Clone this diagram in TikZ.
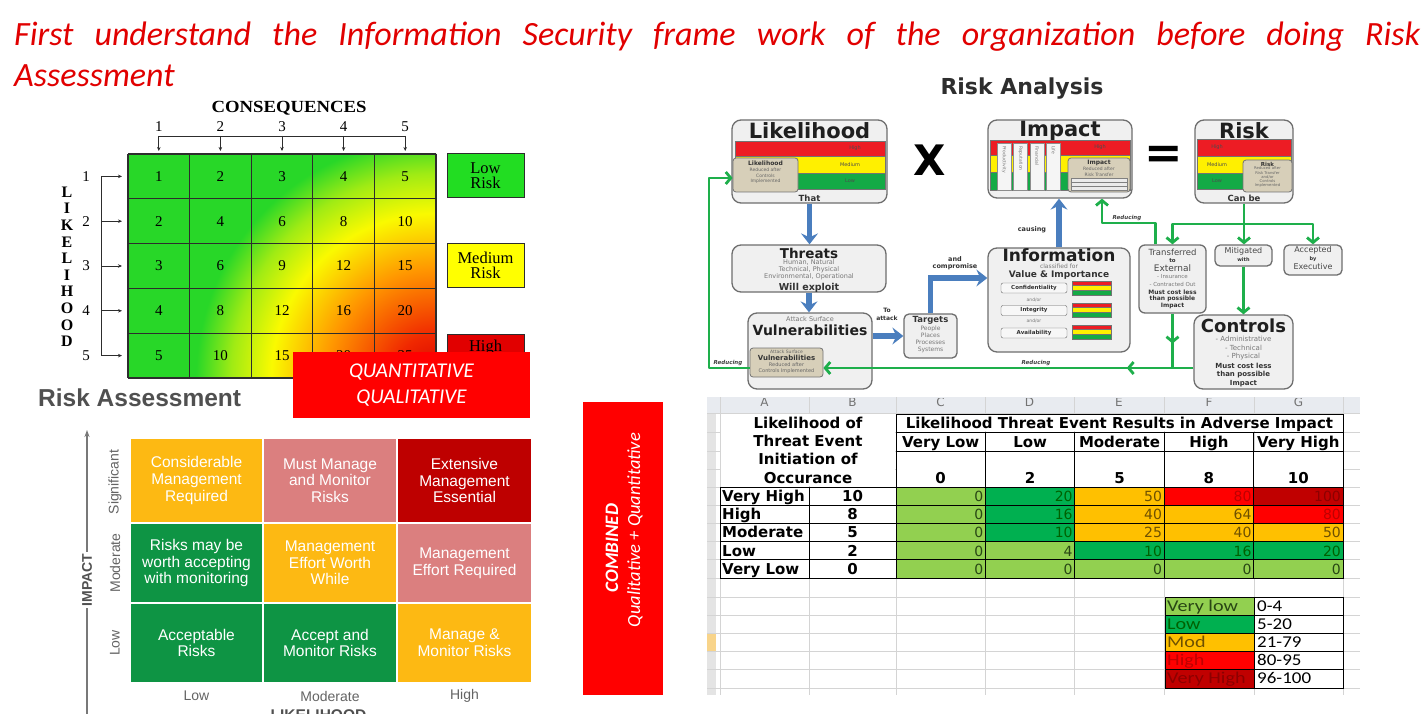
\documentclass[tikz,border=0pt]{standalone}
\usepackage{fontspec}
\setmainfont{Liberation Serif}
\setsansfont{Liberation Sans}
\newfontfamily\calfont{Carlito}
\newfontfamily\verfont{DejaVu Sans}
\newfontfamily\arialfont{Liberation Sans}
\newfontfamily\timesfont{Liberation Serif}
\usetikzlibrary{arrows.meta,calc,decorations.markings}
\newcommand\setfs[2]{\fontsize{#1pt}{#2pt}\selectfont}

% heading and flags
\definecolor{titlered}{RGB}{225,0,0}
\definecolor{flagred}{RGB}{255,0,0}
% heat map
\definecolor{hgreen}{RGB}{40,215,40}
\definecolor{hygreen}{RGB}{160,235,20}
\definecolor{hyellow}{RGB}{250,250,0}
\definecolor{horange}{RGB}{255,150,0}
\definecolor{hred}{RGB}{240,40,0}
\definecolor{hdark}{RGB}{215,0,0}
\definecolor{gridink}{RGB}{45,45,45}
\definecolor{lowbox}{RGB}{34,221,34}
\definecolor{medbox}{RGB}{255,255,0}
\definecolor{highbox}{RGB}{225,0,0}
% qualitative matrix
\definecolor{qamber}{RGB}{253,185,19}
\definecolor{qpink}{RGB}{219,127,127}
\definecolor{qcrim}{RGB}{190,0,0}
\definecolor{qgreen}{RGB}{14,148,68}
\definecolor{axisgray}{RGB}{120,120,120}
\definecolor{ragray}{RGB}{80,80,80}
\definecolor{lblgray}{RGB}{100,100,100}
% risk analysis flow
\definecolor{rafill}{RGB}{240,240,240}
\definecolor{raedge}{RGB}{110,110,110}
\definecolor{bandred}{RGB}{237,28,36}
\definecolor{bandyel}{RGB}{255,240,0}
\definecolor{bandgrn}{RGB}{20,170,70}
\definecolor{beige}{RGB}{215,207,185}
\definecolor{flowblue}{RGB}{74,126,190}
\definecolor{flowgreen}{RGB}{30,175,75}
\definecolor{smallgray}{RGB}{120,120,120}
% spreadsheet
\definecolor{xlgreen}{RGB}{146,208,80}
\definecolor{xgreen}{RGB}{0,176,80}
\definecolor{xamber}{RGB}{255,192,0}
\definecolor{xred}{RGB}{255,0,0}
\definecolor{xdark}{RGB}{192,0,0}
\definecolor{tlg}{RGB}{40,70,20}
\definecolor{tg}{RGB}{0,97,0}
\definecolor{ta}{RGB}{110,80,0}
\definecolor{tr}{RGB}{190,0,0}
\definecolor{td}{RGB}{140,0,0}
\definecolor{xgrid}{RGB}{212,212,212}
\definecolor{xhead}{RGB}{232,235,240}
\definecolor{xrowhd}{RGB}{228,228,228}
\definecolor{xsel}{RGB}{248,212,138}

% radial heat map: the 25bp circle of the shading spans the path's bounding box
\pgfdeclareradialshading{heatmap}{\pgfpoint{0bp}{0bp}}{%
  color(0bp)=(hdark); color(2.7bp)=(hred); color(6.8bp)=(horange);
  color(10.3bp)=(hyellow); color(12.8bp)=(hygreen); color(15bp)=(hgreen);
  color(50bp)=(hgreen)}

\tikzset{
  rabox/.style={draw=raedge, line width=1.3, fill=rafill, rounded corners=9pt, inner sep=0pt},
  beigebox/.style={draw=black!55, line width=0.8, fill=beige, rounded corners=3pt, inner sep=0pt},
  band/.style={draw=black!55, line width=0.5},
  ttl/.style={font=\verfont\bfseries\setfs{#1}{#1}, text=black!88, inner sep=0pt},
  sm/.style={font=\verfont\setfs{#1}{#1}, text=smallgray, inner sep=0pt},
  smd/.style={font=\verfont\setfs{#1}{#1}, text=black!72, inner sep=0pt},
  smb/.style={font=\verfont\bfseries\setfs{#1}{#1}, text=black!80, inner sep=0pt},
  flowlbl/.style={font=\verfont\bfseries\itshape\setfs{5.5}{5.5}, text=black!75, inner sep=0pt},
  bandlbl/.style={font=\verfont\setfs{5}{5}, text=black!70, inner sep=0pt},
  bluearr/.style={draw=flowblue, line width=5.5, -{Stealth[length=11pt,width=17pt,inset=4pt]}},
  greenline/.style={draw=flowgreen, line width=2.8, line join=round},
  greenarr/.style={greenline, -{Straight Barb[length=5pt,width=12pt]}},
  midarrow/.style={postaction={decorate}, decoration={markings,
      mark=at position #1 with {\arrow[flowgreen, line width=2.8]{Straight Barb[length=5pt,width=12pt]}}}},
  qcell/.style={text=white, align=center, inner sep=0pt, font=\arialfont\setfs{15.5}{16.7}},
  serifnum/.style={font=\timesfont\setfs{15}{15}, inner sep=0pt},
  heatlink/.style={gridink, line width=0.9},
  xb/.style={font=\verfont\bfseries\setfs{15}{18.3}, inner sep=0pt},
  xborder/.style={draw=black, line width=0.9}
}

\begin{document}
\begin{tikzpicture}[x=1pt,y=-1pt]
\useasboundingbox (0,0) rectangle (1426,714);
\fill[white] (0,0) rectangle (1426,714);

% ---------------- heading ----------------
\node[anchor=base west, inner sep=0pt, text=titlered, font=\calfont\itshape\setfs{34}{40}] (head1) at (14,46)
  {\makebox[1406pt][s]{First understand the Information Security frame work of the organization before doing Risk}};
\node[anchor=base west, inner sep=0pt, text=titlered, font=\calfont\itshape\setfs{34}{40}] (head2) at (14,87) {Assessment};

% ---------------- quantitative heat map ----------------
\begin{scope}
  \clip (128,154) rectangle (436,378);
  \shade[shading=heatmap] (436,378) circle (400pt);
\end{scope}
\foreach \gx in {128,189.6,251.2,312.8,374.4,436}
  \draw[gridink, line width=1.3] (\gx,154) -- (\gx,378);
\foreach \gy in {154,198.8,243.6,288.4,333.2,378}
  \draw[gridink, line width=1.3] (128,\gy) -- (436,\gy);
\foreach \r in {1,...,5}{
  \foreach \c in {1,...,5}{
    \pgfmathtruncatemacro\cellv{\r*\c}
    \node[serifnum] (m\r\c) at ({128+61.6*(\c-0.5)},{154+44.8*(\r-0.5)}) {\cellv};
  }
}
\node[font=\timesfont\bfseries\setfs{17}{17}, inner sep=0pt] (conseq) at (289,108) {\scalebox{1.1}[1]{CONSEQUENCES}};
\draw[heatlink] (158.8,136) -- (405.2,136);
\foreach \c in {1,...,5}{
  \node[serifnum] (cn\c) at ({128+61.6*(\c-0.5)},127) {\c};
  \draw[heatlink, -{Stealth[length=4pt,width=3.5pt]}] ({128+61.6*(\c-0.5)},136) -- ({128+61.6*(\c-0.5)},151);
}
\draw[heatlink] (101,176.4) -- (101,355.6);
\foreach \r in {1,...,5}{
  \node[serifnum] (rn\r) at (86,{154+44.8*(\r-0.5)}) {\r};
  \draw[heatlink, -{Stealth[length=4pt,width=3.5pt]}] (101,{154+44.8*(\r-0.5)}) -- (122,{154+44.8*(\r-0.5)});
}
\foreach \l [count=\i] in {L,I,K,E,L,I,H,O,O,D}
  \node[font=\timesfont\bfseries\setfs{16}{16}, inner sep=0pt] (lk\i) at (67,{192+16.6*(\i-1)}) {\l};
\node[draw=gridink, line width=1, fill=lowbox, minimum width=77pt, minimum height=44pt, inner sep=0pt,
      align=center, font=\timesfont\setfs{16.5}{15}] (lowr) at (485.5,176) {Low\\Risk};
\node[draw=gridink, line width=1, fill=medbox, minimum width=77pt, minimum height=44pt, inner sep=0pt,
      align=center, font=\timesfont\setfs{16.5}{15}] (medr) at (485.5,265.5) {Medium\\Risk};
\node[draw=gridink, line width=1, fill=highbox, minimum width=77pt, minimum height=44pt, inner sep=0pt] (highr) at (485.5,356) {};
\node[font=\timesfont\setfs{16.5}{15}, inner sep=0pt] (hight) at (485.5,348) {High};

\node[fill=flagred, minimum width=237pt, minimum height=66pt, inner sep=0pt, text=white, align=center,
      font=\calfont\itshape\setfs{21}{26}] (quant) at (411.5,385) {QUANTITATIVE\\QUALITATIVE};

% ---------------- qualitative matrix ----------------
\node[anchor=west, inner sep=0pt, font=\arialfont\bfseries\setfs{24.5}{28}, text=ragray] (rahead) at (38,398) {Risk Assessment};
\node[qcell, fill=qamber, minimum width=131pt, minimum height=83pt] (q11) at (196.5,480.5) {Considerable\\Management\\Required};
\node[qcell, fill=qpink,  minimum width=132pt, minimum height=83pt] (q12) at (330,480.5) {Must Manage\\and Monitor\\Risks};
\node[qcell, fill=qcrim,  minimum width=133pt, minimum height=83pt] (q13) at (464.5,480.5) {Extensive\\Management\\Essential};
\node[qcell, fill=qgreen, minimum width=131pt, minimum height=78pt] (q21) at (196.5,563) {Risks may be\\worth accepting\\with monitoring};
\node[qcell, fill=qamber, minimum width=132pt, minimum height=78pt] (q22) at (330,563) {Management\\Effort Worth\\While};
\node[qcell, fill=qpink,  minimum width=133pt, minimum height=78pt] (q23) at (464.5,563) {Management\\Effort Required};
\node[qcell, fill=qgreen, minimum width=131pt, minimum height=78pt] (q31) at (196.5,643) {Acceptable\\Risks};
\node[qcell, fill=qgreen, minimum width=132pt, minimum height=78pt] (q32) at (330,643) {Accept and\\Monitor Risks};
\node[qcell, fill=qamber, minimum width=133pt, minimum height=78pt] (q33) at (464.5,643) {Manage \&\\Monitor Risks};
\foreach \t/\cx [count=\i] in {Low/196.5,Moderate/330,High/464.5}
  \node[font=\arialfont\setfs{14}{14}, text=lblgray, inner sep=0pt] (lx\i) at (\cx,696) {\t};
\foreach \t/\cy [count=\i] in {Significant/482,Moderate/563,Low/643}
  \node[rotate=90, font=\arialfont\setfs{14}{14}, text=lblgray, inner sep=0pt] (ly\i) at (115,\cy) {\t};
\draw[axisgray, line width=1.2, -{Stealth[length=7pt,width=5pt]}] (87,716) -- (87,430);
\node[rotate=90, fill=white, inner sep=1.5pt, font=\arialfont\bfseries\setfs{14}{14}, text=ragray] (impax) at (87,580) {IMPACT};
\node[anchor=north, inner sep=0pt, font=\arialfont\bfseries\setfs{15.5}{15.5}, text=ragray] (likax) at (318.5,709) {LIKELIHOOD};

% ---------------- combined flag ----------------
\node[fill=flagred, minimum width=80pt, minimum height=293pt, inner sep=0pt] (combo) at (623,548.5) {};
\node[rotate=90, text=white, inner sep=0pt, font=\calfont\bfseries\itshape\setfs{19}{19}] (comboA) at (612,548) {COMBINED};
\node[rotate=90, text=white, inner sep=0pt, font=\calfont\itshape\setfs{18.5}{18.5}] (comboB) at (635,530) {Qualitative + Quantitative};

% ---------------- risk analysis flow ----------------
\node[font=\verfont\bfseries\setfs{22}{22}, text=black!82, inner sep=0pt] (rtitle) at (1022,89) {Risk Analysis};

% likelihood
\node[rabox, minimum width=155pt, minimum height=83pt] (lik) at (809.5,161.5) {};
\node[ttl=21] (likT) at (809.5,131) {Likelihood};
\filldraw[band, fill=bandred] (735,141) rectangle (885,156);
\filldraw[band, fill=bandyel] (735,156) rectangle (885,173);
\filldraw[band, fill=bandgrn] (735,173) rectangle (885,189);
\node[bandlbl] (likH) at (855,148.5) {High};
\node[bandlbl] (likM) at (850,164.5) {Medium};
\node[bandlbl] (likL) at (850,181) {Low};
\node[beigebox, minimum width=65pt, minimum height=34pt] (likb) at (765.5,175) {};
\node[smb=6] (likb0) at (765.5,163.5) {Likelihood};
\foreach \t/\yy [count=\i] in {Reduced after/169.5,Controls/175.5,Implemented/181.5}
  \node[sm=4.5, text=black!60] (likb\i) at (765.5,\yy) {\t};
\node[smb=8.5] (likThat) at (809.5,198) {That};

\node[font=\verfont\bfseries\setfs{42}{42}, inner sep=0pt] (times) at (930,160) {X};

% impact
\node[rabox, minimum width=144pt, minimum height=78pt] (imp) at (1060,159) {};
\node[ttl=21] (impT) at (1060,131) {Impact};
\filldraw[band, fill=bandred] (990,140) rectangle (1130,155);
\filldraw[band, fill=bandyel] (990,155) rectangle (1130,172);
\filldraw[band, fill=bandgrn] (990,172) rectangle (1130,190);
\node[bandlbl] (impH) at (1100,147.5) {High};
\foreach \ax/\t [count=\i] in {997/Productivity,1013.5/Reputation,1030/Financial,1046.5/Life}{
  \filldraw[fill=black!4, draw=black!45, line width=0.5] (\ax,143) rectangle (\ax+14,190);
  \node[rotate=-90, anchor=west, sm=4.5] (imps\i) at (\ax+7,146) {\t};
}
\node[beigebox, minimum width=62pt, minimum height=34pt] (impb) at (1099,175) {};
\node[smb=6] (impb0) at (1099,163) {Impact};
\node[sm=4.5, text=black!60] (impb1) at (1099,169) {Reduced after};
\node[sm=4.5, text=black!60] (impb2) at (1099,174.5) {Risk Transfer};
\foreach \yy in {178.5,182.5,186.5}
  \filldraw[fill=white!92!black, draw=black!50, line width=0.5] (1071,\yy) rectangle (1127,\yy+3.6);

\node[font=\verfont\bfseries\setfs{46}{46}, inner sep=0pt] (equals) at (1164,157) {=};

% risk
\node[rabox, minimum width=98pt, minimum height=83pt] (risk) at (1244,161.5) {};
\node[ttl=21] (riskT) at (1244,131) {Risk};
\filldraw[band, fill=bandred] (1197,139) rectangle (1291,156);
\filldraw[band, fill=bandyel] (1197,156) rectangle (1291,173);
\filldraw[band, fill=bandgrn] (1197,173) rectangle (1291,189);
\node[bandlbl] (riskH) at (1217,147.5) {High};
\node[bandlbl] (riskM) at (1217,164.5) {Medium};
\node[bandlbl] (riskL) at (1217,181) {Low};
\node[beigebox, minimum width=49pt, minimum height=32pt] (riskb) at (1267.5,176) {};
\node[smb=5.5] (riskb0) at (1267.5,164) {Risk};
\foreach \t/\yy [count=\i] in {Reduced after/168.5,Risk Transfer/172.8,{and/or}/177.1,Controls/181.4,Implemented/185.7}
  \node[sm=3.8, text=black!60] (riskb\i) at (1267.5,\yy) {\t};
\node[smb=8.5] (riskCan) at (1244,198) {Can be};

% threats
\node[rabox, minimum width=154pt, minimum height=47pt] (thr) at (809,268.5) {};
\node[ttl=13.5] (thrT) at (809,253) {Threats};
\node[sm=6.5] (thr1) at (809,262.5) {Human, Natural};
\node[sm=6.5] (thr2) at (809,269.5) {Technical, Physical};
\node[sm=6.5] (thr3) at (809,276.5) {Environmental, Operational};
\node[smb=9.5] (thrW) at (809,287.5) {Will exploit};

% vulnerabilities
\node[rabox, minimum width=124pt, minimum height=76pt] (vul) at (810,351) {};
\node[sm=6.5] (vulA) at (810,319.5) {Attack Surface};
\node[ttl=14] (vulT) at (810,330.5) {Vulnerabilities};
\node[beigebox, minimum width=73pt, minimum height=29pt] (vulb) at (786.5,362.5) {};
\node[sm=4.5, text=black!60] (vulb1) at (786.5,352) {Attack Surface};
\node[smb=7] (vulb2) at (786.5,358) {Vulnerabilities};
\node[sm=5, text=black!60] (vulb3) at (786.5,365) {Reduced after};
\node[sm=5, text=black!60] (vulb4) at (786.5,371) {Controls Implemented};

% targets
\node[rabox, rounded corners=5pt, minimum width=53pt, minimum height=44pt] (tgt) at (930.5,336) {};
\node[smb=8.5] (tgtT) at (930.5,320.5) {Targets};
\foreach \t/\yy [count=\i] in {People/328.5,Places/335.5,Processes/342.5,Systems/349.5}
  \node[sm=6] (tgt\i) at (930.5,\yy) {\t};

% information
\node[rabox, minimum width=142pt, minimum height=104pt] (info) at (1059,300) {};
\node[ttl=17] (infoT) at (1059,255) {Information};
\node[sm=6] (infoC) at (1059,266.5) {classified for};
\node[smb=9] (infoV) at (1059,275) {Value \& Importance};
\foreach \t/\yy/\by [count=\i] in {Confidentiality/288/281,Integrity/310.5/303,Availability/333/325}{
  \node[draw=black!60, fill=black!3, rounded corners=2pt, minimum width=66pt, minimum height=10pt, smb=5.5] (cia\i) at (1034,\yy) {\t};
  \filldraw[band, fill=bandred] (1072,\by) rectangle (1111,\by+4.7);
  \filldraw[band, fill=bandyel] (1072,\by+4.7) rectangle (1111,\by+9.4);
  \filldraw[band, fill=bandgrn] (1072,\by+9.4) rectangle (1111,\by+14);
}
\node[sm=4.5] (andor1) at (1034,299.5) {and/or};
\node[sm=4.5] (andor2) at (1034,320.5) {and/or};

% treatment options
\node[rabox, rounded corners=6pt, minimum width=67pt, minimum height=68pt] (trf) at (1172.5,279) {};
\node[smd=8.5] (trf1) at (1172.5,252.5) {Transferred};
\node[smb=5.5] (trf2) at (1172.5,261) {to};
\node[smd=9] (trf3) at (1172.5,268.5) {External};
\node[sm=5.5] (trf4) at (1172.5,276.5) {- Insurance};
\node[sm=5.5] (trf5) at (1172.5,284) {- Contracted Out};
\node[smb=6] (trf6) at (1172.5,292) {Must cost less};
\node[smb=6] (trf7) at (1172.5,299) {than possible};
\node[smb=6] (trf8) at (1172.5,306) {Impact};

\node[rabox, rounded corners=5pt, minimum width=57pt, minimum height=21pt] (mit) at (1243.5,255.5) {};
\node[smd=8] (mit1) at (1243.5,251.5) {Mitigated};
\node[smb=5] (mit2) at (1243.5,260) {with};

\node[rabox, rounded corners=5pt, minimum width=58pt, minimum height=30pt] (acc) at (1313,260) {};
\node[smd=8] (acc1) at (1313,250.5) {Accepted};
\node[smb=5] (acc2) at (1313,259) {by};
\node[smd=8] (acc3) at (1313,267) {Executive};

\node[rabox, minimum width=99pt, minimum height=74pt] (ctl) at (1243.5,352) {};
\node[ttl=18] (ctlT) at (1243.5,326) {Controls};
\foreach \t/\yy [count=\i] in {- Administrative/339,- Technical/348,- Physical/357}
  \node[sm=7] (ctl\i) at (1243.5,\yy) {\t};
\foreach \t/\yy [count=\i] in {Must cost less/366,than possible/375,Impact/383.5}
  \node[smb=7] (ctlm\i) at (1243.5,\yy) {\t};

% flow connectors
\coordinate (rowB) at (0,368);
\coordinate (rowT) at (0,178);
\coordinate (branchY) at (0,224);
\coordinate (reduceY) at (0,223);
\coordinate (loopX) at (709,0);
\coordinate (reduceX) at (1102,0);

\draw[bluearr] (lik.south) -- (lik.south |- thr.north);
\draw[bluearr] (thr.south) -- (thr.south |- vul.north);
\draw[bluearr] (vul.east |- tgt.west) -- (tgt.west);
\draw[bluearr] (tgt.north) |- ([yshift=22pt]info.west);
\draw[bluearr] (info.north) -- (info.north |- imp.south);

\draw[greenarr] (risk.south) -- (risk.south |- mit.north);
\draw[greenarr] (risk.south |- branchY) -| (trf.north);
\draw[greenarr] (risk.south |- branchY) -| (acc.north);
\draw[greenarr] ([xshift=-17pt]trf.north) |- (reduceX |- reduceY) -- (reduceX |- imp.south);
\draw[greenarr] (mit.south) -- (mit.south |- ctl.north);
\draw[greenline, midarrow=0.55] (trf.south) -- (trf.south |- rowB);
\draw[greenarr, midarrow=0.18] (ctl.west |- rowB) -- (vulb.east |- rowB);
\draw[greenarr] (vulb.west |- rowB) -- (loopX |- rowB) -- (loopX |- rowT) -- (likb.west |- rowT);

\node[smb=6.5] (lblCause) at (1032,230) {causing};
\node[smb=6.5] (lblAnd) at (955,259) {and};
\node[smb=6.5] (lblComp) at (955,267) {compromise};
\node[smb=6] (lblTo) at (887,310) {To};
\node[smb=6] (lblAtt) at (887,318) {attack};
\node[flowlbl] (lblRed1) at (1127,218.5) {Reducing};
\node[flowlbl] (lblRed2) at (1036,363.5) {Reducing};
\node[flowlbl] (lblRed3) at (728,363.5) {Reducing};

% ---------------- spreadsheet ----------------
\fill[xhead] (707,397) rectangle (1360,413);
\fill[xrowhd] (707,413) rectangle (716,695);
\fill[xsel] (707,633) rectangle (716,651);
\foreach \gx in {720,809,896,985,1074,1164,1254,1343}
  \draw[xgrid, line width=0.8] (\gx,397) -- (\gx,695);
\foreach \gy in {413,432,451,469,487,505.2,523.4,541.6,559.8,578,597,615.2,633.4,651.6,669.8,688}
  \draw[xgrid, line width=0.8] (707,\gy) -- (1360,\gy);
\begin{scope}
  \clip (707,398) rectangle (1360,413);
  \foreach \l/\cx in {A/764.5,B/852.5,C/940.5,D/1029.5,E/1119,F/1209,G/1298.5}
    \node[font=\verfont\setfs{12}{12}, text=black!55, inner sep=0pt] (col\l) at (\cx,402) {\l};
\end{scope}
\fill[white] (720.6,413.6) rectangle (895.4,486.4);
\fill[white] (896,413.6) rectangle (1343,431.4);
\fill[white] (896,451.6) rectangle (1343,486.4);

\node[xb, align=center] (hdrA) at (808,450) {Likelihood of\\Threat Event\\Initiation of\\Occurance};
\node[xb, anchor=base] (hdrC) at (1119.5,428.5) {Likelihood Threat Event Results in Adverse Impact};
\foreach \t/\v [count=\c] in {Very Low/0,Low/2,Moderate/5,High/8,Very High/10}{
  \pgfmathsetmacro\cx{896+89.4*(\c-0.5)}
  \node[xb, anchor=base] (sc\c) at (\cx,447) {\t};
  \node[xb, anchor=base] (sv\c) at (\cx,483.5) {\v};
}
\draw[xborder] (896,414) rectangle (1343,432);
\draw[xborder] (896,432) -- (896,487);
\draw[xborder] (1343,432) -- (1343,487);
\draw[xborder] (896,451) -- (1343,451);
\foreach \gx in {985.4,1074.8,1164.2,1253.6}
  \draw[xborder] (\gx,432) -- (\gx,487);

\foreach \lab/\lv/\cells [count=\r] in {
  Very High/10/{0/xlgreen/tlg,20/xgreen/tg,50/xamber/ta,80/xred/tr,100/xdark/td},
  High/8/{0/xlgreen/tlg,16/xgreen/tg,40/xamber/ta,64/xamber/ta,80/xred/tr},
  Moderate/5/{0/xlgreen/tlg,10/xgreen/tg,25/xamber/ta,40/xamber/ta,50/xamber/ta},
  Low/2/{0/xlgreen/tlg,4/xlgreen/tlg,10/xgreen/tg,16/xgreen/tg,20/xgreen/tg},
  Very Low/0/{0/xlgreen/tlg,0/xlgreen/tlg,0/xlgreen/tlg,0/xlgreen/tlg,0/xlgreen/tlg}}{
  \pgfmathsetmacro\ytop{487+18.2*(\r-1)}
  \pgfmathsetmacro\ybot{\ytop+18.2}
  \pgfmathsetmacro\ybase{\ytop+14.4}
  \draw[xborder] (720,\ytop) rectangle (896,\ybot);
  \draw[xborder] (809,\ytop) -- (809,\ybot);
  \node[xb, anchor=base west] (rl\r) at (722,\ybase) {\lab};
  \node[xb, anchor=base] (rv\r) at (852.5,\ybase) {\lv};
  \foreach \v/\cl/\tc [count=\c] in \cells {
    \pgfmathsetmacro\xl{896+89.4*(\c-1)}
    \pgfmathsetmacro\xr{\xl+89.4}
    \filldraw[fill=\cl, xborder] (\xl,\ytop) rectangle (\xr,\ybot);
    \node[anchor=base east, font=\verfont\setfs{14}{14}, text=\tc, inner sep=0pt] (d\r\c) at (\xr-2,\ybase) {\v};
  }
}

\foreach \lab/\rng/\cl/\tc [count=\i] in {Very low/0-4/xlgreen/tlg,Low/5-20/xgreen/tg,Mod/21-79/xamber/ta,High/80-95/xred/tr,Very High/96-100/xdark/td}{
  \pgfmathsetmacro\ytop{597+18.2*(\i-1)}
  \pgfmathsetmacro\ybot{\ytop+18.2}
  \pgfmathsetmacro\ybase{\ytop+14}
  \filldraw[fill=\cl, xborder] (1165,\ytop) rectangle (1254,\ybot);
  \filldraw[fill=white, xborder] (1254,\ytop) rectangle (1343,\ybot);
  \node[anchor=base west, font=\calfont\setfs{16.5}{16.5}, text=\tc, inner sep=0pt] (lg\i) at (1167,\ybase) {\scalebox{1.22}[1]{\lab}};
  \node[anchor=base west, font=\calfont\setfs{16.5}{16.5}, inner sep=0pt] (lr\i) at (1257,\ybase) {\scalebox{1.15}[1]{\rng}};
}
\end{tikzpicture}
\end{document}
